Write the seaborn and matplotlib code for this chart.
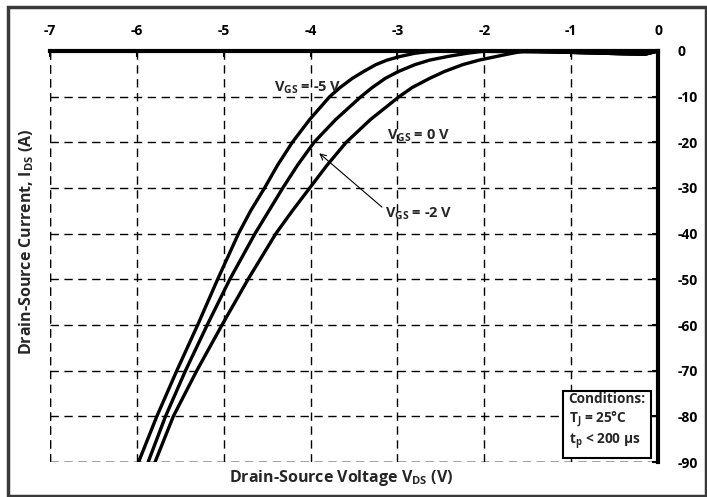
import matplotlib
matplotlib.use("Agg")
import matplotlib.pyplot as plt
import matplotlib.patches as mpatches
import pandas as pd
import seaborn as sns

# Drain current levels at which the curves were read (A)
ids_levels = [-90, -80, -70, -60, -50, -40, -35, -30, -25, -20, -15, -10,
              -8, -6, -4.5, -3, -2, -1.2, -0.5, -0.15, 0.0]
# small dip of the overlapping curves near V_DS = 0
tail_vds = [-1.2, -0.8, -0.4, -0.15, 0.0]
tail_ids = [-0.2, -0.4, -0.6, -0.7, 0.0]

# V_DS readings (V) for each gate voltage, matching ids_levels
vds_m5 = [-5.98, -5.77, -5.54, -5.30, -5.07, -4.83, -4.69, -4.53, -4.38, -4.21, -4.01, -3.78,
          -3.66, -3.52, -3.39, -3.25, -3.12, -2.97, -2.80, -2.65, -2.50]
vds_m2 = [-5.87, -5.67, -5.44, -5.19, -4.93, -4.64, -4.48, -4.32, -4.15, -3.96, -3.71, -3.42,
          -3.29, -3.14, -2.99, -2.80, -2.63, -2.42, -2.20, -2.05, -1.95]
vds_0 = [-5.79, -5.58, -5.31, -5.02, -4.72, -4.40, -4.21, -4.01, -3.81, -3.59, -3.31, -2.98,
         -2.83, -2.63, -2.46, -2.25, -2.06, -1.86, -1.68, -1.58, -1.50]

x_ticks = [-7, -6, -5, -4, -3, -2, -1, 0]
y_ticks = [0, -10, -20, -30, -40, -50, -60, -70, -80, -90]

sns.set_theme(style="white")
plt.rcParams['font.family'] = ['Open Sans', 'DejaVu Sans']
plt.rcParams['font.weight'] = 'bold'
plt.rcParams['mathtext.fontset'] = 'custom'
plt.rcParams['mathtext.rm'] = 'Open Sans:bold'
plt.rcParams['mathtext.it'] = 'Open Sans:bold'
plt.rcParams['mathtext.bf'] = 'Open Sans:bold'

fig = plt.figure(figsize=(7.07, 4.97), dpi=100)
ax = fig.add_axes([0.0707, 0.0704, 0.86, 0.827])

for vds in [vds_m5, vds_m2, vds_0]:
    df = pd.DataFrame({'vds': vds + tail_vds, 'ids': ids_levels + tail_ids})
    sns.lineplot(data=df, x='vds', y='ids', sort=False, estimator=None,
                 color='black', lw=2.4, ax=ax)

ax.set_xlim(-7, 0)
ax.set_ylim(-90, 0)
ax.set_xticks(x_ticks)
ax.set_yticks(y_ticks)
ax.set_xticklabels([str(v) for v in x_ticks])
ax.set_yticklabels([str(v) for v in y_ticks])
ax.xaxis.tick_top()
ax.yaxis.tick_right()
ax.tick_params(axis='both', direction='in', length=4, width=1.5, color='black',
               labelsize=10, labelcolor='black')
ax.tick_params(axis='x', pad=9)
ax.tick_params(axis='y', pad=14)
for lbl in ax.get_xticklabels() + ax.get_yticklabels():
    lbl.set_fontweight('bold')

dash = (0, (6, 4))
ax.grid(True, color='black', linestyle=dash, linewidth=1.0)
ax.axvline(x_ticks[0], color='black', linestyle=dash, linewidth=1.0)
ax.axhline(y_ticks[-1], color='black', linestyle=dash, linewidth=1.0)

ax.spines['left'].set_visible(False)
ax.spines['bottom'].set_visible(False)
for side in ['top', 'right']:
    ax.spines[side].set_linewidth(3)
    ax.spines[side].set_color('black')
ax.set_xlabel('')
ax.set_ylabel('')

# curve labels
ax.text(-3.64, -8.1, 'V$_\\mathrm{GS}$ = -5 V', ha='right', va='center', fontsize=10.5, fontweight='bold')
ax.text(-3.12, -18.6, 'V$_\\mathrm{GS}$ = 0 V', ha='left', va='center', fontsize=10.5, fontweight='bold')
ax.annotate('V$_\\mathrm{GS}$ = -2 V', xy=(-3.90, -22.4), xytext=(-3.14, -35.7),
            ha='left', va='center', fontsize=10.5, fontweight='bold',
            arrowprops=dict(arrowstyle='->', color='black', lw=0.8,
                            shrinkA=0, shrinkB=0, relpos=(0, 0.75)))

ax.text(-1.03, -74.6, 'Conditions:\nT$_\\mathrm{J}$ = 25°C\nt$_\\mathrm{p}$ < 200 µs',
        ha='left', va='top', fontsize=9.8, fontweight='bold', linespacing=1.25,
        bbox=dict(boxstyle='square,pad=0.4', facecolor='white', edgecolor='black', lw=1.5))

fig.text(0.037, 0.514, 'Drain-Source Current, I$_\\mathrm{DS}$ (A)', rotation=90,
         ha='center', va='center', fontsize=11.5, fontweight='bold')
fig.text(0.482, 0.038, 'Drain-Source Voltage V$_\\mathrm{DS}$ (V)',
         ha='center', va='center', fontsize=11.5, fontweight='bold')

fig.patches.append(mpatches.Rectangle((0.011, 0.002), 0.987, 0.984, transform=fig.transFigure,
                                      fill=False, edgecolor='#3a3a3a', lw=2.5))

fig.savefig('out.png', dpi=100)
